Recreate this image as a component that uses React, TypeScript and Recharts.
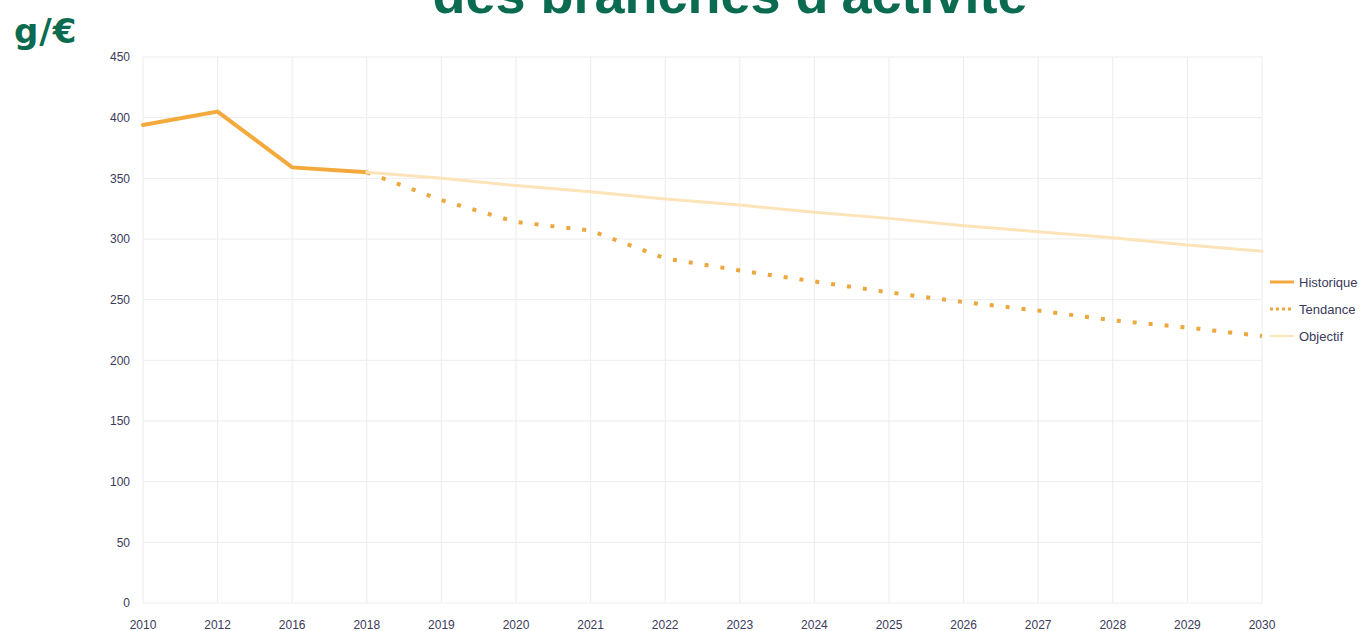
import { CartesianGrid, Line, LineChart, XAxis, YAxis } from "recharts";

const years = ["2010", "2012", "2016", "2018", "2019", "2020", "2021", "2022", "2023", "2024", "2025", "2026", "2027", "2028", "2029", "2030"];
const historique = [394, 405, 359, 355, null, null, null, null, null, null, null, null, null, null, null, null];
const tendance = [null, null, null, 355, 332, 314, 307, 284, 274, 265, 256, 248, 241, 233, 227, 220];
const objectif = [null, null, null, 355, 350, 344, 339, 333, 328, 322, 317, 311, 306, 301, 295, 290];
const yTicks = [0, 50, 100, 150, 200, 250, 300, 350, 400, 450];

const data = years.map((year, i) => ({
  year,
  historique: historique[i],
  tendance: tendance[i],
  objectif: objectif[i],
}));

const GREEN = "#0b6b50";
const TEXT = "#3b3a5a";

const series = [
  { key: "historique", name: "Historique", color: "#f4a93c", width: 4, dash: undefined as string | undefined },
  { key: "tendance", name: "Tendance", color: "#eca73e", width: 4, dash: "4 12" },
  { key: "objectif", name: "Objectif", color: "#fde3b8", width: 3, dash: undefined as string | undefined },
];

// légende à droite, posée par-dessus le graphique
function LegendBox() {
  return (
    <div style={{ position: "absolute", left: 1270, top: 273, display: "flex", flexDirection: "column", gap: 9 }}>
      {series.map((s) => (
        <div key={s.key} style={{ display: "flex", alignItems: "center", height: 18 }}>
          <svg width={24} height={6} style={{ marginRight: 5 }}>
            <line x1={0} y1={3} x2={24} y2={3} stroke={s.color} strokeWidth={s.width - 1} strokeDasharray={s.dash ? "3 3" : undefined} />
          </svg>
          <span style={{ fontSize: 13, color: TEXT, whiteSpace: "nowrap" }}>{s.name}</span>
        </div>
      ))}
    </div>
  );
}

export default function App() {
  return (
    <div
      style={{
        position: "absolute",
        left: 0,
        top: 0,
        width: 1367,
        height: 631,
        overflow: "hidden",
        background: "#fff",
        fontFamily: "'Liberation Sans', Arial, sans-serif",
      }}
    >
      <div
        style={{
          position: "absolute",
          top: -33,
          left: 0,
          width: 1460,
          textAlign: "center",
          fontSize: 54,
          lineHeight: 1,
          fontWeight: 700,
          color: GREEN,
          whiteSpace: "nowrap",
        }}
      >
        des branches d'activité
      </div>
      <div
        style={{
          position: "absolute",
          top: 14,
          left: 14,
          fontSize: 34,
          lineHeight: 1,
          fontWeight: 700,
          fontFamily: "'DejaVu Sans', sans-serif",
          color: GREEN,
          letterSpacing: 1,
        }}
      >
        g/€
      </div>
      <LineChart width={1367} height={631} data={data} margin={{ top: 57, right: 105, bottom: 0, left: 0 }}>
        <CartesianGrid stroke="#ececec" />
        <XAxis
          dataKey="year"
          tickLine={false}
          axisLine={false}
          tickMargin={11}
          height={28}
          interval={0}
          tick={{ fontSize: 12, fill: TEXT }}
        />
        <YAxis
          domain={[0, 450]}
          ticks={yTicks}
          tickLine={false}
          axisLine={false}
          tickMargin={7}
          width={143}
          tick={{ fontSize: 12, fill: TEXT }}
        />
        {series.map((s) => (
          <Line
            key={s.key}
            type="linear"
            dataKey={s.key}
            name={s.name}
            stroke={s.color}
            strokeWidth={s.width}
            strokeDasharray={s.dash}
            strokeLinecap={s.dash ? "butt" : "round"}
            dot={false}
            activeDot={false}
            connectNulls={false}
            isAnimationActive={false}
          />
        ))}
      </LineChart>
      <LegendBox />
    </div>
  );
}
